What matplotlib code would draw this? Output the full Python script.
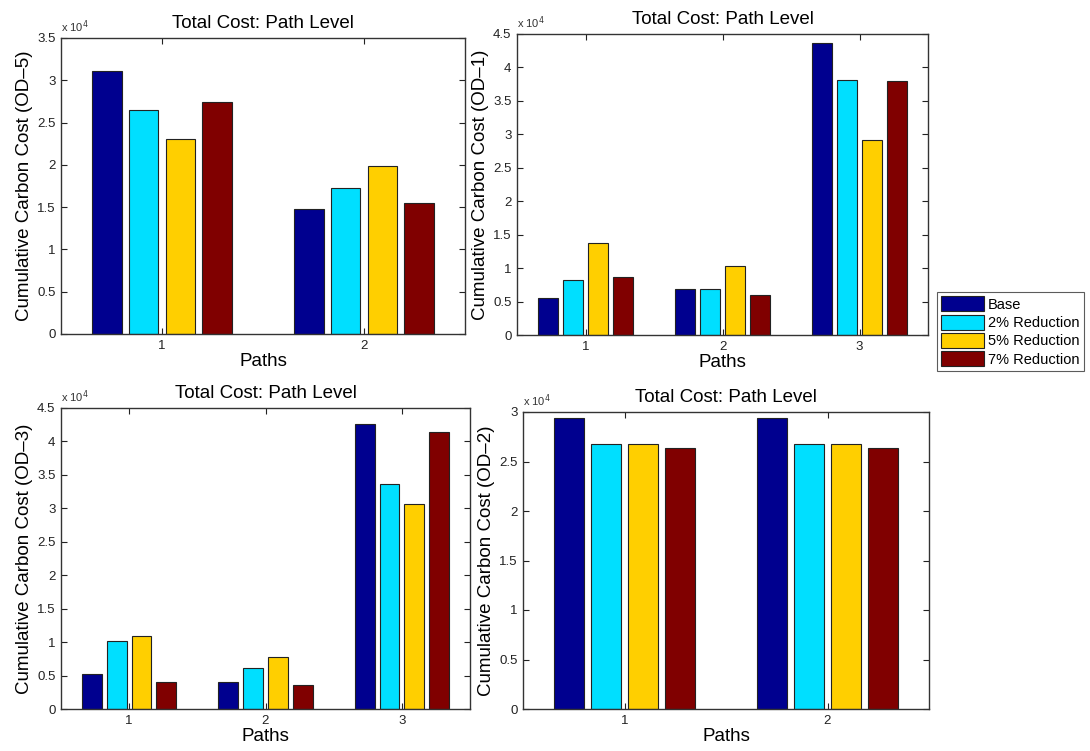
import numpy as np
import matplotlib.pyplot as plt
from matplotlib.ticker import FuncFormatter
from matplotlib.patches import Patch

plt.rcParams['font.family'] = ['Liberation Sans', 'DejaVu Sans']

# Escenarios y colores (jet de MATLAB con 4 series)
series = ['Base', '2% Reduction', '5% Reduction', '7% Reduction']
colors = ['#00008F', '#00DFFF', '#FFCF00', '#800000']

# Costes por ruta (filas = rutas, columnas = escenarios)
od5 = [[31100, 26540, 23030, 27480],
       [14760, 17210, 19840, 15510]]
od1 = [[5570, 8210, 13740, 8660],
       [6820, 6820, 10350, 5970],
       [43610, 38180, 29120, 37930]]
od3 = [[5190, 10180, 10920, 4090],
       [4070, 6090, 7780, 3590],
       [42650, 33630, 30630, 41410]]
od2 = [[29430, 26740, 26740, 26400],
       [29430, 26740, 26740, 26400]]

W, H = 1090, 751

# (datos, etiqueta, ymax, caja en píxeles: izq, der, arriba, abajo)
paneles = [
    (od5, 'OD\u20135', 35000, (61, 465, 38, 334)),
    (od1, 'OD\u20131', 45000, (517, 928, 34, 335)),
    (od3, 'OD\u20133', 45000, (61, 470, 408, 709)),
    (od2, 'OD\u20132', 30000, (523, 929, 412, 709)),
]

fig = plt.figure(figsize=(W / 100, H / 100), dpi=100)

n = len(series)
grupo = min(0.8, n / (n + 1.5))
hueco = grupo / n
ancho = hueco * 0.8

for datos, od, ymax, (l, r, t, b) in paneles:
    ax = fig.add_axes([l / W, 1 - b / H, (r - l) / W, (b - t) / H])
    datos = np.array(datos)
    x = np.arange(1, datos.shape[0] + 1)
    for j in range(n):
        offs = -grupo / 2 + hueco * (j + 0.5)
        ax.bar(x + offs, datos[:, j], width=ancho, color=colors[j],
               edgecolor='#222222', linewidth=0.8)
    ax.set_xlim(0.5, datos.shape[0] + 0.5)
    ax.set_ylim(0, ymax)
    ax.set_xticks(x)
    ax.set_yticks(np.arange(0, ymax + 1, 5000))
    ax.yaxis.set_major_formatter(FuncFormatter(lambda v, p: '%g' % (v / 1e4)))
    ax.tick_params(direction='in', top=True, right=True, labelsize=9.5,
                   length=4, width=0.8, colors='#222222', pad=4)
    for s in ax.spines.values():
        s.set_color('#333333')
        s.set_linewidth(1.0)
    ax.set_title('Total Cost: Path Level', fontsize=13.5, pad=7)
    ax.set_xlabel('Paths', fontsize=13.5, labelpad=1)
    ax.set_ylabel('Cumulative Carbon Cost (%s)' % od, fontsize=13.5, labelpad=3)
    ax.text(0.0, 1.01, r'x 10$^4$', transform=ax.transAxes, fontsize=8,
            ha='left', va='bottom', color='#333333')

handles = [Patch(facecolor=c, edgecolor='#222222', linewidth=0.8) for c in colors]
leg = fig.legend(handles, series, loc='upper left',
                 bbox_to_anchor=(937 / W, 1 - 292 / H), fontsize=10.5,
                 frameon=True, fancybox=False, handlelength=2.9,
                 handleheight=1.2, handletextpad=0.3, borderpad=0.3,
                 labelspacing=0.2, borderaxespad=0)
leg.get_frame().set_edgecolor('#333333')
leg.get_frame().set_linewidth(0.8)

fig.savefig('out.png', dpi=100)
